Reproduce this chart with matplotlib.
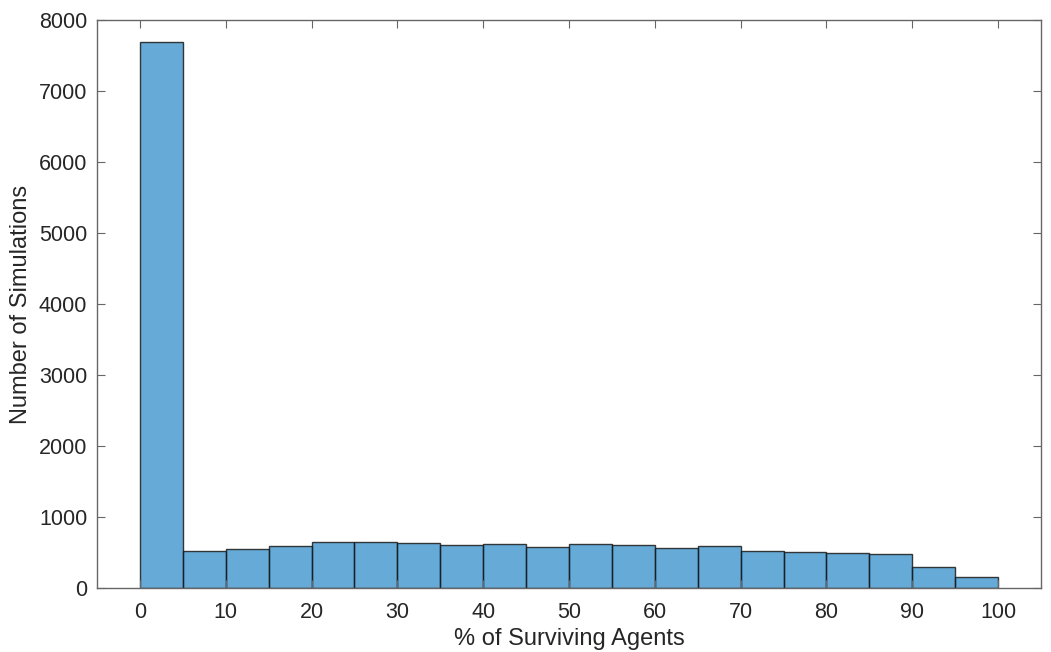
import matplotlib.pyplot as plt
import numpy as np

# histogram bin edges (% of agents still alive) and counts per bin
bin_edges = np.arange(0, 105, 5)
counts = [7684, 522, 550, 598, 644, 644, 640, 612, 626, 583,
          622, 606, 569, 588, 527, 503, 499, 475, 302, 161]

plt.rcParams["font.family"] = ["Liberation Sans", "DejaVu Sans"]

fig = plt.figure(figsize=(10.51, 6.52), dpi=100)
ax = fig.add_axes([97 / 1051, 1 - 588 / 652, (1041 - 97) / 1051, (588 - 20) / 652])

ax.hist(bin_edges[:-1], bins=bin_edges, weights=counts,
        color=(0.0, 0.447, 0.741, 0.6), edgecolor=(0.1, 0.1, 0.1, 0.85),
        linewidth=1.0)

ax.set_xlim(-5, 105)
ax.set_ylim(0, 8000)
ax.set_xticks(np.arange(0, 101, 10))
ax.set_yticks(np.arange(0, 8001, 1000))

axis_gray = "#262626"
for side in ax.spines.values():
    side.set_color("#666666")
    side.set_linewidth(1.0)
ax.tick_params(axis="both", direction="in", length=6, width=0.8,
               colors="#666666", labelcolor=axis_gray, labelsize=15.5,
               top=True, right=True)
ax.tick_params(axis="x", pad=10)
ax.tick_params(axis="y", pad=7)

ax.set_xlabel("% of Surviving Agents", fontsize=17, color=axis_gray, labelpad=4)
ax.set_ylabel("Number of Simulations", fontsize=17, color=axis_gray, labelpad=5)

fig.savefig("out.png", dpi=100)
plt.close(fig)
